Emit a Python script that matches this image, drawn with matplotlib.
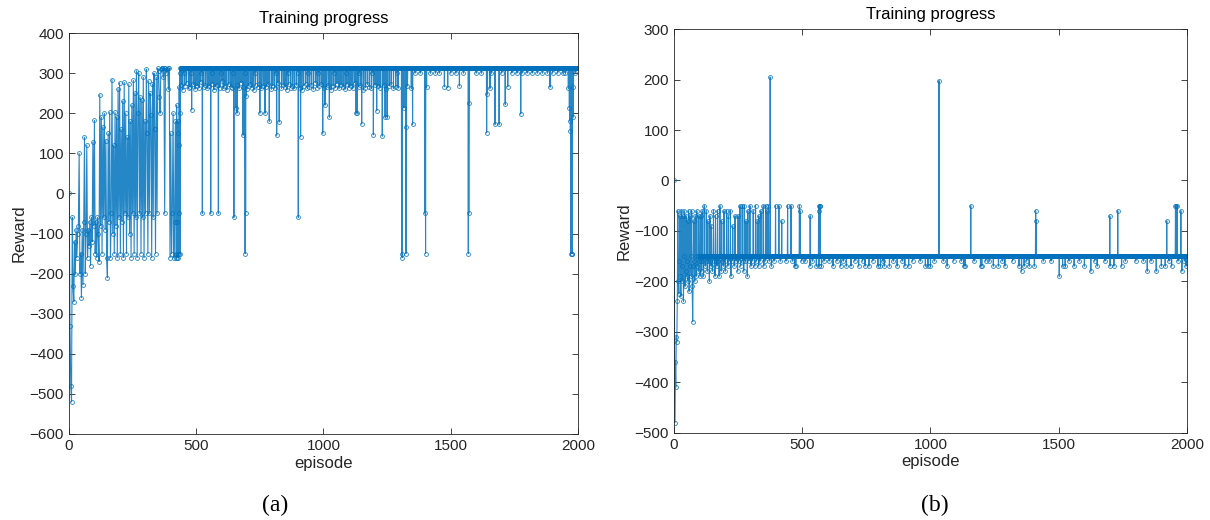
import numpy as np
import matplotlib
matplotlib.use("Agg")
import matplotlib.pyplot as plt

plt.rcParams['font.family'] = ['Liberation Sans', 'DejaVu Sans']

# ---- panel (a) ----
# early phase, episodes 1, 4, 7, ... 418
a_early = [0, -330, -480, -520, -60, -230, -270, -120, -200, -90,
           -160, -100, -80, 100, -200, -150, -260, -90, -228, -70,
           140, -200, -100, 120, -160, -90, -130, -70, -180, -60,
           -120, 128, -80, 182, -150, -70, -160, -60, -100, -170,
           246, -80, 190, -150, 165, -60, 200, -90, 132, -160,
           -210, 150, -70, 202, -160, -50, 284, -100, 120, -150,
           202, -80, 190, -160, 261, -60, 276, -150, 160, -70,
           230, -160, 277, -50, 200, -150, 140, -60, 272, -100,
           180, -160, 220, -50, 282, -150, 250, -60, 306, -160,
           200, 300, -50, 240, -150, 232, -60, 290, -160, 180,
           -50, 310, 150, -150, 280, -50, 250, 195, -160, 273,
           -60, 300, 160, -150, 290, -50, 312, 305, 240, 200,
           310, 312, 312, 290, 312, -50, 312, 300, 310, 312,
           260, 312, -160, 150, -150, -50, 200, -160, -70, 180]
a_level = 312
a_low = [433, 441, 447, 455, 462, 470, 476, 489, 495, 503, 511, 517, 529, 536,
         543, 550, 562, 569, 575, 581, 593, 600, 606, 613, 620, 628, 635, 641,
         662, 668, 676, 683, 699, 705, 712, 719, 726, 733, 741, 748, 756, 763,
         776, 782, 795, 801, 808, 822, 835, 842, 849, 856, 863, 871, 878, 885,
         893, 906, 915, 922, 930, 937, 944, 952, 960, 968, 975, 983, 991, 1003,
         1012, 1019, 1030, 1038, 1046, 1053, 1061, 1069, 1077, 1085, 1092, 1100,
         1108, 1115, 1122, 1138, 1145, 1157, 1164, 1172, 1180, 1188, 1203, 1215,
         1222, 1236, 1245, 1258, 1266, 1275, 1284, 1293, 1330, 1345, 1405, 1475,
         1488, 1534, 1654, 1724, 1890, 1962, 1982]
a_low_val = [265, 270, 258, 268, 275, 262, 266, 272, 260, 268, 264, 278, 266, 270,
             262, 268, 274, 258, 266, 270, 264, 280, 262, 268, 258, 272, 266, 264,
             270, 262, 276, 266, 260, 268, 272, 264, 258, 270, 266, 274, 262, 268,
             266, 272, 260, 268, 264, 276, 262, 270, 266, 258, 272, 264, 268, 262,
             270, 264, 258, 268, 274, 262, 266, 270, 260, 276, 264, 268, 272, 262,
             266, 270, 258, 268, 264, 274, 262, 270, 266, 260, 272, 264,
             268, 262, 276, 266, 270, 258, 264, 272, 266, 262, 270, 268,
             264, 270, 260, 268, 272, 262, 266, 264, 268, 262, 265, 266,
             264, 268, 262, 266, 265, 262, 266]
a_mid = [438, 452, 480, 520, 560, 598, 645, 690, 730, 770, 812, 860, 900, 940,
         980, 1040, 1090, 1140, 1190, 1250, 1290, 1360, 1380, 1420, 1440, 1455,
         1500, 1520, 1550, 1600, 1620, 1660, 1700, 1740, 1760, 1780, 1800, 1820,
         1840, 1860, 1880, 1900, 1920, 1940, 1950, 1990]
a_mid_val = 300
a_deep_ep = [421, 422, 423, 424, 425, 426, 427, 428, 429, 430, 431, 432, 434,
             435, 437, 482, 524, 557, 587, 648, 655, 660,
             684, 692, 694, 696, 750, 770, 787, 816, 826, 901, 910, 997, 1006,
             1023, 1128, 1133, 1150, 1196, 1209, 1231, 1242, 1250, 1307, 1309,
             1316, 1324, 1326, 1350, 1399, 1401, 1569, 1571, 1573, 1641, 1644,
             1674, 1690, 1714, 1775, 1966, 1968, 1970, 1972, 1975, 1978, 1980]
a_deep_val = [-150, -160, 220, -150, -160, -70, 180, 150, -150, -160, -50, -150, 120,
              200, -150, 208, -50, -50, -50, -60, 213, 200,
              145, -150, -50, 243, 200, 200, 180, 145, 178, -60, 141, 150, 220,
              190, 200, 200, 173, 146, 206, 143, 190, 190, -150, -160,
              213, -150, 165, 172, -50, -150, -150, -50, 225, 151, 248,
              172, 172, 222, 198, 213, 181, 155, -150, -150, -150, 190]

# ---- panel (b) ----
# early phase, episodes 1, 3, 5, ... 99
b_early = [0, -480, -360, -410, -310, -320, -240, -60, -200, -225,
           -160, -70, -190, -230, -60, -200, -170, -70, -240, -150,
           -60, -210, -180, -70, -190, -160, -80, -200, -60, -220,
           -170, -70, -150, -190, -60, -210, -280, -170, -80, -160,
           -200, -70, -150, -190, -60, -170, -150, -180, -70, -160]
b_level = -150
b_band = [105, 113, 124, 134, 142, 157, 165, 173, 188, 197, 215, 226, 242, 253,
          268, 278, 292, 305, 322, 336, 355, 372, 390, 415, 437, 462, 498, 512,
          540, 585, 605, 635, 660, 705, 735, 775, 815, 855, 890, 930, 960, 1015,
          1050, 1090, 1120, 1170, 1215, 1230, 1280, 1320, 1375, 1440, 1470, 1540,
          1580, 1640, 1680, 1760, 1800, 1830, 1860, 1930, 1965, 1990]
b_band_val = -160
b_up_ep = [104, 110, 118, 126, 132, 140, 146, 154, 162, 170, 179, 186, 195, 205,
           212, 220, 229, 238, 250, 257, 266, 274, 281, 288, 296, 309, 318, 325,
           331, 339, 348, 357, 362, 368, 375, 396, 409, 420, 443, 456, 489, 491,
           531, 564, 566, 568, 570, 1033, 1157, 1410, 1412, 1699, 1730, 1921,
           1955, 1958, 1962, 1976]
b_up_val = [-70, -60, -50, -60, -80, -70, -90, -60, -70, -60, -50, -80, -60, -60,
            -70, -60, -90, -70, -70, -50, -50, -50, -80, -60, -50, -60, -50, -80,
            -70, -60, -50, -50, -60, -50, 205, -50, -50, -80, -50, -50, -50, -60,
            -70, -50, -60, -50, -50, 198, -50, -60, -80, -70, -60, -80,
            -50, -50, -50, -60]
b_down_ep = [102, 108, 115, 122, 130, 138, 145, 150, 160, 168, 176, 184, 192, 200,
             210, 222, 235, 248, 260, 272, 286, 288, 300, 315, 330, 350, 380, 470,
             475, 530, 555, 565, 575, 620, 650, 672, 690, 720, 745, 760, 795, 805,
             820, 840, 870, 900, 915, 980, 990, 1000, 1065, 1130, 1135, 1195, 1200,
             1245, 1265, 1290, 1345, 1355, 1365, 1385, 1405, 1502, 1515, 1525,
             1560, 1600, 1625, 1650, 1700, 1715, 1745, 1845, 1880, 1900, 1915,
             1940, 1980, 1996]
b_down_val = [-190, -180, -190, -170, -180, -200, -170, -180, -190, -170, -190,
              -180, -170, -180, -170, -190, -170, -180, -170, -180, -190, -190,
              -170, -170, -170, -170, -170, -170, -170, -170, -170, -170, -170,
              -170, -170, -170, -170, -170, -170, -170, -170, -170, -170, -170,
              -170, -170, -170, -170, -170, -170, -170, -170, -170, -170, -170,
              -170, -170, -170, -170, -180, -170, -170, -170, -190, -170, -170,
              -170, -170, -180, -170, -170, -170, -170, -180, -180, -170, -170,
              -170, -180, -170]


def build(early, step, start_late, level, pairs):
    x_early = 1 + step * np.arange(len(early))
    x_late = np.arange(start_late, 2001)
    y_late = np.full(len(x_late), float(level))
    for eps, vals in pairs:
        for e, v in zip(eps, vals):
            y_late[e - start_late] = v
    return np.concatenate([x_early, x_late]), np.concatenate([early, y_late])


xa, ya = build(a_early, 3, 421, a_level,
               [(a_mid, [a_mid_val] * len(a_mid)),
                (a_low, a_low_val),
                (a_deep_ep, a_deep_val)])
xb, yb = build(b_early, 2, 100, b_level,
               [(b_band, [b_band_val] * len(b_band)),
                (b_down_ep, b_down_val), (b_up_ep, b_up_val)])

fig = plt.figure(figsize=(12.1, 5.2), dpi=100)
ax1 = fig.add_axes([0.057, 0.1654, 0.4207, 0.771])
ax2 = fig.add_axes([0.557, 0.168, 0.424, 0.776])

dark = '#262626'
blue = '#0072BD'
for ax, x, y, ylim, yt in [(ax1, xa, ya, (-600, 400), range(-600, 401, 100)),
                           (ax2, xb, yb, (-500, 300), range(-500, 301, 100))]:
    ax.plot(x, y, '-o', color=blue, lw=0.8, ms=2.8, mfc='none', mew=0.6, alpha=0.85)
    ax.set_xlim(0, 2000)
    ax.set_ylim(*ylim)
    ax.set_xticks([0, 500, 1000, 1500, 2000])
    ax.set_yticks(list(yt))
    ax.tick_params(direction='in', top=True, right=True, labelsize=11,
                   colors=dark, length=4, width=0.6)
    for s in ax.spines.values():
        s.set_color(dark)
        s.set_linewidth(0.6)
    ax.set_title('Training progress', fontsize=12, color='black', pad=7)
    ax.set_xlabel('episode', fontsize=12, color=dark, labelpad=2)
    ax.set_ylabel('Reward', fontsize=12, color=dark, labelpad=2)

fig.text(275 / 1210, 1 - 505 / 520, '(a)', fontsize=17, family='Liberation Serif',
         ha='center', va='center')
fig.text(935 / 1210, 1 - 505 / 520, '(b)', fontsize=17, family='Liberation Serif',
         ha='center', va='center')

fig.savefig('out.png', dpi=100)
